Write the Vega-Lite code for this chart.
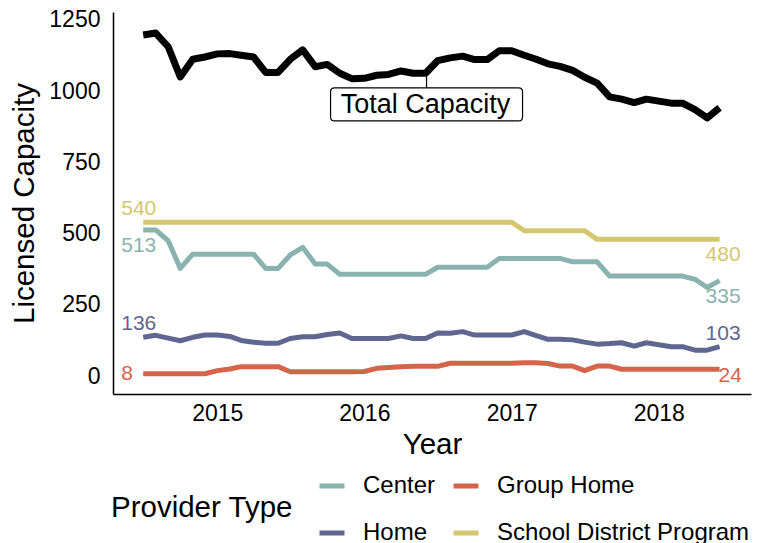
{
  "$schema": "https://vega.github.io/schema/vega-lite/v6.json",
  "width": 638,
  "height": 382,
  "autosize": {"type": "none"},
  "padding": {"left": 113, "top": 12, "right": 21, "bottom": 149},
  "background": "white",
  "config": {
    "font": "Liberation Sans",
    "view": {"stroke": null},
    "axis": {
      "domainColor": "black",
      "domainWidth": 1.5,
      "ticks": false,
      "grid": false,
      "labelFontSize": 23,
      "labelColor": "black",
      "titleFontSize": 29.5,
      "titleFontWeight": "normal",
      "titleColor": "black"
    }
  },
  "data": {
    "values": [
      {"date": "2014-07-01", "Center": 513, "Group Home": 8, "Home": 136, "School District Program": 540, "Total": 1197},
      {"date": "2014-08-01", "Center": 513, "Group Home": 8, "Home": 143, "School District Program": 540, "Total": 1204},
      {"date": "2014-09-01", "Center": 475, "Group Home": 8, "Home": 133, "School District Program": 540, "Total": 1156},
      {"date": "2014-10-01", "Center": 378, "Group Home": 8, "Home": 124, "School District Program": 540, "Total": 1050},
      {"date": "2014-11-01", "Center": 428, "Group Home": 8, "Home": 136, "School District Program": 540, "Total": 1112},
      {"date": "2014-12-01", "Center": 428, "Group Home": 8, "Home": 144, "School District Program": 540, "Total": 1120},
      {"date": "2015-01-01", "Center": 428, "Group Home": 19, "Home": 144, "School District Program": 540, "Total": 1131},
      {"date": "2015-02-01", "Center": 428, "Group Home": 25, "Home": 139, "School District Program": 540, "Total": 1132},
      {"date": "2015-03-01", "Center": 428, "Group Home": 33, "Home": 125, "School District Program": 540, "Total": 1126},
      {"date": "2015-04-01", "Center": 428, "Group Home": 33, "Home": 119, "School District Program": 540, "Total": 1120},
      {"date": "2015-05-01", "Center": 378, "Group Home": 33, "Home": 115, "School District Program": 540, "Total": 1066},
      {"date": "2015-06-01", "Center": 378, "Group Home": 33, "Home": 115, "School District Program": 540, "Total": 1066},
      {"date": "2015-07-01", "Center": 425, "Group Home": 15, "Home": 132, "School District Program": 540, "Total": 1112},
      {"date": "2015-08-01", "Center": 452, "Group Home": 15, "Home": 138, "School District Program": 540, "Total": 1145},
      {"date": "2015-09-01", "Center": 393, "Group Home": 15, "Home": 138, "School District Program": 540, "Total": 1086},
      {"date": "2015-10-01", "Center": 393, "Group Home": 15, "Home": 146, "School District Program": 540, "Total": 1094},
      {"date": "2015-11-01", "Center": 357, "Group Home": 15, "Home": 151, "School District Program": 540, "Total": 1063},
      {"date": "2015-12-01", "Center": 357, "Group Home": 15, "Home": 132, "School District Program": 540, "Total": 1044},
      {"date": "2016-01-01", "Center": 357, "Group Home": 16, "Home": 132, "School District Program": 540, "Total": 1045},
      {"date": "2016-02-01", "Center": 357, "Group Home": 27, "Home": 132, "School District Program": 540, "Total": 1056},
      {"date": "2016-03-01", "Center": 357, "Group Home": 30, "Home": 132, "School District Program": 540, "Total": 1059},
      {"date": "2016-04-01", "Center": 357, "Group Home": 33, "Home": 141, "School District Program": 540, "Total": 1071},
      {"date": "2016-05-01", "Center": 357, "Group Home": 34, "Home": 132, "School District Program": 540, "Total": 1063},
      {"date": "2016-06-01", "Center": 357, "Group Home": 34, "Home": 132, "School District Program": 540, "Total": 1063},
      {"date": "2016-07-01", "Center": 382, "Group Home": 34, "Home": 151, "School District Program": 540, "Total": 1107},
      {"date": "2016-08-01", "Center": 382, "Group Home": 45, "Home": 150, "School District Program": 540, "Total": 1117},
      {"date": "2016-09-01", "Center": 382, "Group Home": 45, "Home": 156, "School District Program": 540, "Total": 1123},
      {"date": "2016-10-01", "Center": 382, "Group Home": 45, "Home": 144, "School District Program": 540, "Total": 1111},
      {"date": "2016-11-01", "Center": 382, "Group Home": 45, "Home": 144, "School District Program": 540, "Total": 1111},
      {"date": "2016-12-01", "Center": 413, "Group Home": 45, "Home": 144, "School District Program": 540, "Total": 1142},
      {"date": "2017-01-01", "Center": 413, "Group Home": 45, "Home": 144, "School District Program": 540, "Total": 1142},
      {"date": "2017-02-01", "Center": 413, "Group Home": 47, "Home": 156, "School District Program": 510, "Total": 1126},
      {"date": "2017-03-01", "Center": 413, "Group Home": 47, "Home": 143, "School District Program": 510, "Total": 1113},
      {"date": "2017-04-01", "Center": 413, "Group Home": 44, "Home": 129, "School District Program": 510, "Total": 1096},
      {"date": "2017-05-01", "Center": 413, "Group Home": 35, "Home": 129, "School District Program": 510, "Total": 1087},
      {"date": "2017-06-01", "Center": 401, "Group Home": 35, "Home": 127, "School District Program": 510, "Total": 1073},
      {"date": "2017-07-01", "Center": 401, "Group Home": 19, "Home": 119, "School District Program": 510, "Total": 1049},
      {"date": "2017-08-01", "Center": 401, "Group Home": 35, "Home": 112, "School District Program": 480, "Total": 1028},
      {"date": "2017-09-01", "Center": 351, "Group Home": 35, "Home": 114, "School District Program": 480, "Total": 980},
      {"date": "2017-10-01", "Center": 351, "Group Home": 24, "Home": 117, "School District Program": 480, "Total": 972},
      {"date": "2017-11-01", "Center": 351, "Group Home": 24, "Home": 105, "School District Program": 480, "Total": 960},
      {"date": "2017-12-01", "Center": 351, "Group Home": 24, "Home": 117, "School District Program": 480, "Total": 972},
      {"date": "2018-01-01", "Center": 351, "Group Home": 24, "Home": 110, "School District Program": 480, "Total": 965},
      {"date": "2018-02-01", "Center": 351, "Group Home": 24, "Home": 103, "School District Program": 480, "Total": 958},
      {"date": "2018-03-01", "Center": 351, "Group Home": 24, "Home": 103, "School District Program": 480, "Total": 958},
      {"date": "2018-04-01", "Center": 340, "Group Home": 24, "Home": 91, "School District Program": 480, "Total": 935},
      {"date": "2018-05-01", "Center": 311, "Group Home": 24, "Home": 91, "School District Program": 480, "Total": 906},
      {"date": "2018-06-01", "Center": 335, "Group Home": 24, "Home": 103, "School District Program": 480, "Total": 942}
    ]
  },
  "encoding": {
    "x": {
      "field": "date",
      "type": "temporal",
      "title": "Year",
      "scale": {
        "type": "utc",
        "domain": [
          {"year": 2014, "month": 4, "date": 17, "utc": true},
          {"year": 2018, "month": 8, "date": 18, "utc": true}
        ]
      },
      "axis": {
        "values": [
          {"year": 2015, "month": 1, "date": 1, "utc": true},
          {"year": 2016, "month": 1, "date": 1, "utc": true},
          {"year": 2017, "month": 1, "date": 1, "utc": true},
          {"year": 2018, "month": 1, "date": 1, "utc": true}
        ],
        "format": "%Y",
        "labelPadding": 8,
        "titlePadding": 5,
        "labelFlush": false
      }
    }
  },
  "layer": [
    {
      "transform": [{"fold": ["Center", "Group Home", "Home", "School District Program"], "as": ["type", "value"]}],
      "mark": {"type": "line", "strokeWidth": 5, "strokeJoin": "round"},
      "encoding": {
        "y": {
          "field": "value",
          "type": "quantitative",
          "title": "Licensed Capacity",
          "scale": {"domain": [-63, 1278], "nice": false, "zero": false},
          "axis": {"values": [0, 250, 500, 750, 1000, 1250], "format": "d", "labelPadding": 13, "titlePadding": 9}
        },
        "color": {
          "field": "type",
          "type": "nominal",
          "scale": {
            "domain": ["Center", "Group Home", "Home", "School District Program"],
            "range": ["#8AB2AF", "#D5644A", "#5F6690", "#D3C76F"]
          },
          "legend": {
            "orient": "none",
            "legendX": -2,
            "legendY": 459,
            "direction": "horizontal",
            "columns": 2,
            "title": "Provider Type",
            "titleOrient": "left",
            "titleAnchor": "middle",
            "titleFontSize": 29.5,
            "titleFontWeight": "normal",
            "titleColor": "black",
            "titlePadding": 24,
            "titleLimit": 400,
            "labelLimit": 400,
            "labelFontSize": 24,
            "labelColor": "black",
            "symbolType": "stroke",
            "symbolStrokeWidth": 5,
            "symbolSize": 625,
            "labelOffset": 16,
            "columnPadding": 7,
            "rowPadding": 20
          }
        }
      }
    },
    {
      "mark": {"type": "line", "strokeWidth": 7, "color": "black", "strokeJoin": "round"},
      "encoding": {
        "y": {"field": "Total", "type": "quantitative", "title": "Licensed Capacity"}
      }
    },
    {
      "transform": [{"filter": "toDate(datum.date) > datetime(2016, 4, 15) && toDate(datum.date) < datetime(2016, 5, 15)"}],
      "mark": {
        "type": "point",
        "shape": "M -0.91,0.147 L 0.93,0.147 Q 0.97,0.147 0.97,0.187 L 0.97,0.437 Q 0.97,0.477 0.93,0.477 L -0.91,0.477 Q -0.95,0.477 -0.95,0.437 L -0.95,0.187 Q -0.95,0.147 -0.91,0.147 Z M 0.01,0.02 L 0.01,0.147",
        "size": 40000,
        "filled": true,
        "fill": "white",
        "stroke": "black",
        "strokeWidth": 1.2,
        "opacity": 1,
        "fillOpacity": 1,
        "strokeOpacity": 1
      },
      "encoding": {
        "y": {"field": "Total", "type": "quantitative", "title": "Licensed Capacity"}
      }
    },
    {
      "transform": [{"filter": "toDate(datum.date) > datetime(2016, 4, 15) && toDate(datum.date) < datetime(2016, 5, 15)"}],
      "mark": {"type": "text", "fontSize": 27, "align": "center", "baseline": "middle", "dy": 32, "color": "black"},
      "encoding": {
        "y": {"field": "Total", "type": "quantitative", "title": "Licensed Capacity"},
        "text": {"value": "Total Capacity"}
      }
    },
    {
      "transform": [
        {"fold": ["Center", "Group Home", "Home", "School District Program"], "as": ["type", "value"]},
        {"filter": "toDate(datum.date) < datetime(2014, 7, 1) && (datum.type == 'School District Program' || datum.type == 'Home')"}
      ],
      "mark": {"type": "text", "fontSize": 21, "align": "left", "baseline": "middle", "dx": -22, "dy": -13},
      "encoding": {
        "y": {"field": "value", "type": "quantitative", "title": "Licensed Capacity"},
        "color": {"field": "type", "type": "nominal", "legend": null},
        "text": {"field": "value", "type": "quantitative"}
      }
    },
    {
      "transform": [
        {"fold": ["Center", "Group Home", "Home", "School District Program"], "as": ["type", "value"]},
        {"filter": "toDate(datum.date) < datetime(2014, 7, 1) && datum.type == 'Center'"}
      ],
      "mark": {"type": "text", "fontSize": 21, "align": "left", "baseline": "middle", "dx": -22, "dy": 16},
      "encoding": {
        "y": {"field": "value", "type": "quantitative", "title": "Licensed Capacity"},
        "color": {"field": "type", "type": "nominal", "legend": null},
        "text": {"field": "value", "type": "quantitative"}
      }
    },
    {
      "transform": [
        {"fold": ["Center", "Group Home", "Home", "School District Program"], "as": ["type", "value"]},
        {"filter": "toDate(datum.date) < datetime(2014, 7, 1) && datum.type == 'Group Home'"}
      ],
      "mark": {"type": "text", "fontSize": 21, "align": "left", "baseline": "middle", "dx": -22, "dy": 0},
      "encoding": {
        "y": {"field": "value", "type": "quantitative", "title": "Licensed Capacity"},
        "color": {"field": "type", "type": "nominal", "legend": null},
        "text": {"field": "value", "type": "quantitative"}
      }
    },
    {
      "transform": [
        {"fold": ["Center", "Group Home", "Home", "School District Program"], "as": ["type", "value"]},
        {"filter": "toDate(datum.date) > datetime(2018, 4, 15) && (datum.type == 'School District Program' || datum.type == 'Center')"}
      ],
      "mark": {"type": "text", "fontSize": 21, "align": "left", "baseline": "middle", "dx": -14, "dy": 16},
      "encoding": {
        "y": {"field": "value", "type": "quantitative", "title": "Licensed Capacity"},
        "color": {"field": "type", "type": "nominal", "legend": null},
        "text": {"field": "value", "type": "quantitative"}
      }
    },
    {
      "transform": [
        {"fold": ["Center", "Group Home", "Home", "School District Program"], "as": ["type", "value"]},
        {"filter": "toDate(datum.date) > datetime(2018, 4, 15) && datum.type == 'Home'"}
      ],
      "mark": {"type": "text", "fontSize": 21, "align": "left", "baseline": "middle", "dx": -14, "dy": -13},
      "encoding": {
        "y": {"field": "value", "type": "quantitative", "title": "Licensed Capacity"},
        "color": {"field": "type", "type": "nominal", "legend": null},
        "text": {"field": "value", "type": "quantitative"}
      }
    },
    {
      "transform": [
        {"fold": ["Center", "Group Home", "Home", "School District Program"], "as": ["type", "value"]},
        {"filter": "toDate(datum.date) > datetime(2018, 4, 15) && datum.type == 'Group Home'"}
      ],
      "mark": {"type": "text", "fontSize": 21, "align": "left", "baseline": "middle", "dx": -1, "dy": 7},
      "encoding": {
        "y": {"field": "value", "type": "quantitative", "title": "Licensed Capacity"},
        "color": {"field": "type", "type": "nominal", "legend": null},
        "text": {"field": "value", "type": "quantitative"}
      }
    }
  ]
}
